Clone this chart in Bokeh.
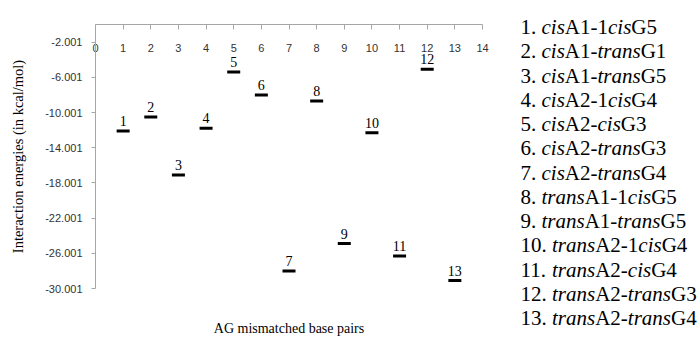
import re
from bokeh.plotting import figure
from bokeh.models import Range1d, FixedTicker, LinearAxis
from bokeh.core.properties import value
from bokeh.embed import file_html
from bokeh.resources import INLINE

# ---- data ----
pair_ids = list(range(1, 14))
energies = [-12.1, -10.5, -17.1, -11.8, -5.4, -8.0, -28.0, -8.7, -24.9, -12.3, -26.3, -5.1, -29.1]
point_labels = [str(i) for i in pair_ids]
pair_names = ["cisA1-1cisG5", "cisA1-transG1", "cisA1-transG5", "cisA2-1cisG4",
              "cisA2-cisG3", "cisA2-transG3", "cisA2-transG4", "transA1-1cisG5",
              "transA1-transG5", "transA2-1cisG4", "transA2-cisG4", "transA2-transG3",
              "transA2-transG4"]
x_ticks = list(range(0, 15))
y_ticks = [-30.001, -26.001, -22.001, -18.001, -14.001, -10.001, -6.001, -2.001]
y_tick_labels = ["-30.001", "-26.001", "-22.001", "-18.001", "-14.001", "-10.001", "-6.001", "-2.001"]
x_title = "AG mismatched base pairs"
y_title = "Interaction energies (in kcal/mol)"

AXIS_GRAY = "#A6A6A6"
TICK_TXT = "#333333"
W, H = 697, 338
FL, FR, FT, FB = 95, 482, 24, 293   # frame edges in canvas pixels

p = figure(width=W, height=H, x_range=Range1d(0, 14), y_range=Range1d(-30.001, -0.001),
           x_axis_location="above", output_backend="svg", toolbar_location=None,
           min_border_left=FL, min_border_right=W - FR, min_border_top=FT, min_border_bottom=H - FB)
p.outline_line_color = None
p.xgrid.visible = False
p.ygrid.visible = False

# top x axis: ticks pointing into the plot, labels just below the line
xa = p.xaxis[0]
xa.ticker = FixedTicker(ticks=x_ticks)
xa.axis_line_color = AXIS_GRAY
xa.major_tick_line_color = AXIS_GRAY
xa.major_tick_in = 5
xa.major_tick_out = 0
xa.minor_tick_line_color = None
xa.major_label_standoff = -27
xa.major_label_text_font = "Liberation Sans"
xa.major_label_text_font_size = "11px"
xa.major_label_text_color = TICK_TXT

# left y axis
ya = p.yaxis[0]
ya.ticker = FixedTicker(ticks=y_ticks)
ya.major_label_overrides = {t: s for t, s in zip(y_ticks, y_tick_labels)}
ya.axis_line_color = AXIS_GRAY
ya.major_tick_line_color = AXIS_GRAY
ya.major_tick_in = 0
ya.major_tick_out = 4
ya.minor_tick_line_color = None
ya.major_label_standoff = 9
ya.major_label_text_font = "Liberation Sans"
ya.major_label_text_font_size = "11px"
ya.major_label_text_color = TICK_TXT
ya.axis_label = y_title
ya.axis_label_text_font = "Liberation Serif"
ya.axis_label_text_font_size = "14.5px"
ya.axis_label_text_font_style = "normal"
ya.axis_label_text_color = "black"
ya.axis_label_standoff = 16

# bottom axis only carries the title
xb = LinearAxis(ticker=FixedTicker(ticks=[]), axis_line_color=None,
                major_tick_line_color=None, minor_tick_line_color=None,
                major_tick_out=0, major_label_standoff=0,
                axis_label=x_title, axis_label_text_font="Liberation Serif",
                axis_label_text_font_size="14px", axis_label_text_font_style="normal",
                axis_label_text_color="black", axis_label_standoff=32)
p.add_layout(xb, "below")

# points as short dashes with numbers above
p.scatter(x=pair_ids, y=energies, marker="dash", size=13, line_width=3, line_color="black")
p.text(x=pair_ids, y=energies, text=point_labels, text_align="center",
       text_baseline="bottom", y_offset=-5, text_font=value("Liberation Serif"),
       text_font_size="14px", text_color="black")

# ---- legend list at the right (mixed roman / italic), placed in canvas pixels ----
p.extra_x_ranges["px"] = Range1d(FL, FR)
p.extra_y_ranges["px"] = Range1d(FB, FT)

ROMAN = {'.': 250, ' ': 250, '-': 333, 'A': 722, 'G': 722}
ITALIC = {'c': 444, 'i': 278, 's': 389, 't': 278, 'r': 389, 'a': 500, 'n': 500}
LEG_SIZE = 21
LEG_X0 = 520
LEG_BASE0 = 26.7
LEG_STEP = 24.7

def seg_width(txt, italic):
    table = ITALIC if italic else ROMAN
    return sum(table.get(ch, 500) for ch in txt) / 1000.0 * LEG_SIZE

rom = dict(x=[], y=[], t=[])
ita = dict(x=[], y=[], t=[])
for i, name in enumerate(pair_names):
    segs = [(f"{pair_ids[i]}. ", False)]
    for part in re.split(r"(cis|trans)", name):
        if part:
            segs.append((part, part in ("cis", "trans")))
    x = LEG_X0
    y = LEG_BASE0 + i * LEG_STEP
    for txt, it in segs:
        d = ita if it else rom
        d["x"].append(x)
        d["y"].append(y)
        d["t"].append(txt)
        x += seg_width(txt, it)

for d, style in ((rom, "normal"), (ita, "italic")):
    p.text(x=d["x"], y=d["y"], text=d["t"], text_font=value("Liberation Serif"),
           text_font_size=f"{LEG_SIZE}px", text_font_style=style, text_color="black",
           text_baseline="alphabetic", text_align="left",
           x_range_name="px", y_range_name="px", level="overlay")

open("out.html", "w").write(file_html(p, INLINE))
